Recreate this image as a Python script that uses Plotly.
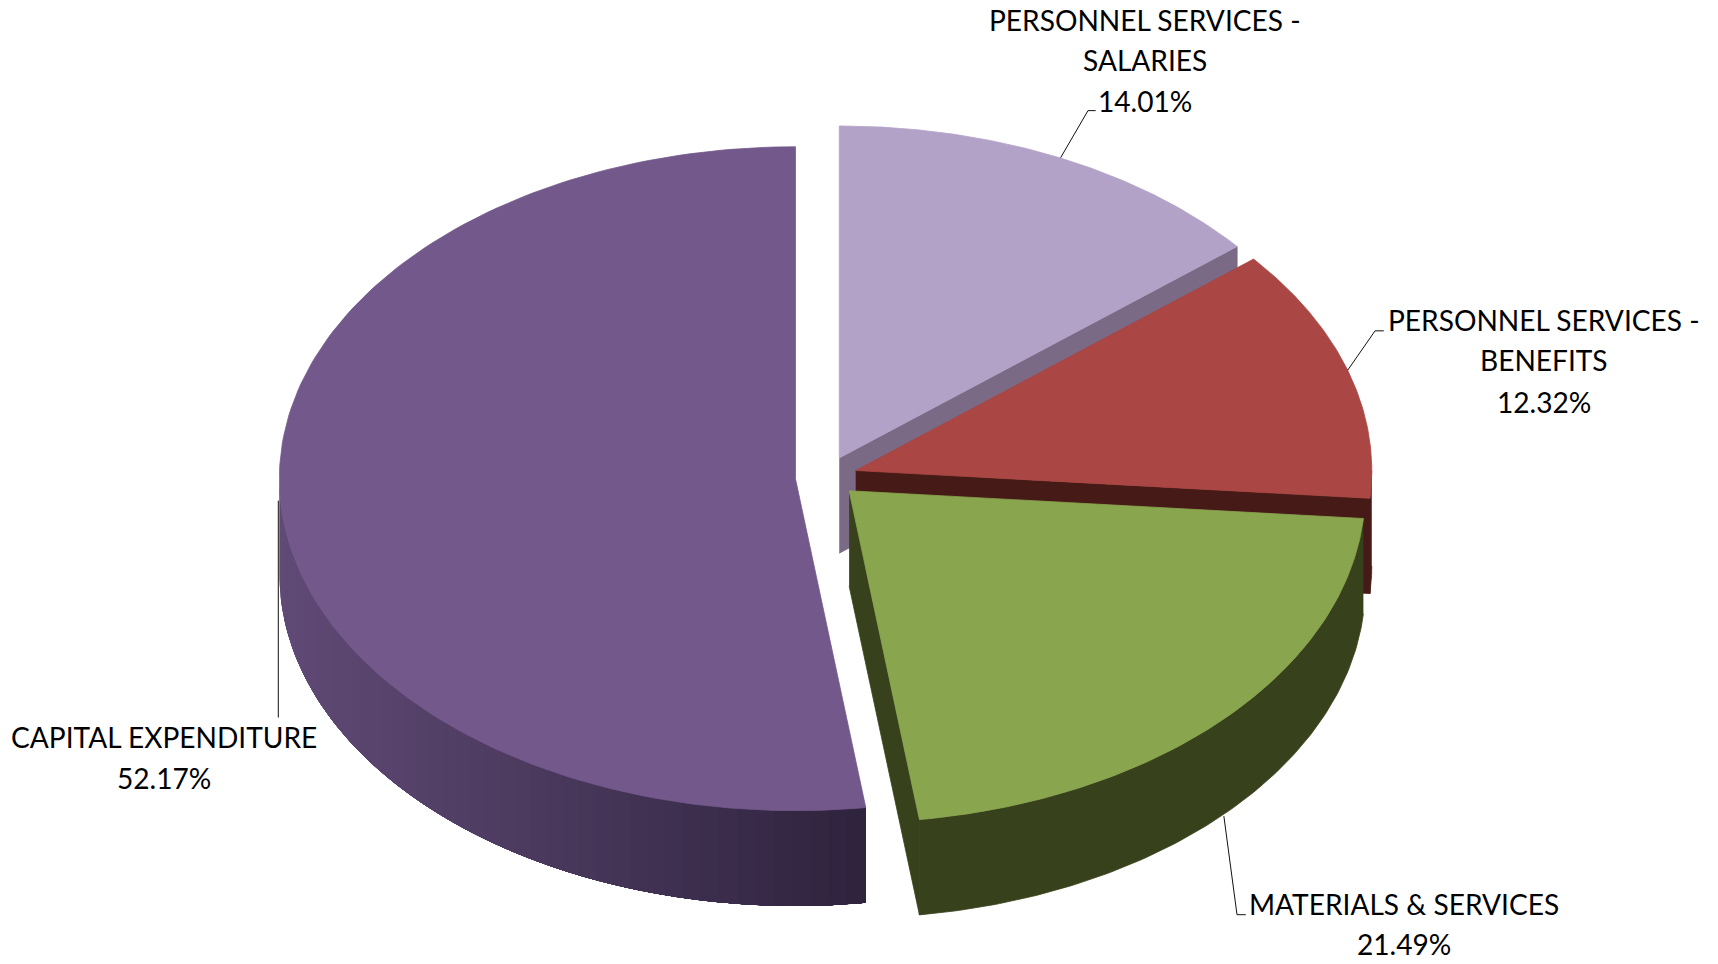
import numpy as np
import plotly.graph_objects as go

# ---- data ----
categories = ["PERSONNEL SERVICES - SALARIES", "PERSONNEL SERVICES - BENEFITS",
              "MATERIALS & SERVICES", "CAPITAL EXPENDITURE"]
shares = [14.01, 12.32, 21.49, 52.17]
label_lines = [["PERSONNEL SERVICES -", "SALARIES"],
               ["PERSONNEL SERVICES -", "BENEFITS"],
               ["MATERIALS & SERVICES"],
               ["CAPITAL EXPENDITURE"]]

# ---- styling / projection (drawing units = reference at 1568x880) ----
top_colors = ["#b3a2c7", "#aa4643", "#89a54e", "#73588c"]
cut_colors = ["#7a6a86", "#461a17", "#37421c", "#2e233c"]
wall_colors = ["#7a6a86", "#4a1c19", "#37421c", None]
wall_left, wall_right = (96, 74, 118), (45, 34, 60)
centers = [(766, 418), (781, 429.5), (775, 448), (726, 437)]
RX, RY, DEPTH = 471, 303, 87
label_pos = [(1045, [18, 55, 92]), (1409, [292, 329, 367]), (1281, [825, 862]), (150, [673, 710])]
leaders = [([968, 993, 1000], [144, 101, 101]),
           ([1230, 1255, 1263], [338, 302, 302]),
           ([1117, 1129, 1137], [745, 835, 835]),
           ([254, 254], [457, 655])]

fractions = np.array(shares) / sum(shares)
ends = np.cumsum(fractions) * 2 * np.pi
starts = np.concatenate([[0], ends[:-1]])

fig = go.Figure()


def poly(xs, ys, color, name, width=0.8):
    fig.add_trace(go.Scatter(x=list(xs), y=list(ys), mode="lines", fill="toself", fillcolor=color,
                             line=dict(color=color, width=width), name=name, hoverinfo="name",
                             showlegend=False))


def rim(c, a):
    return c[0] + RX * np.sin(a), c[1] - RY * np.cos(a)


for i in range(4):
    c, a0, a1 = centers[i], starts[i], ends[i]
    name = categories[i]
    arc = np.linspace(a0, a1, 160)
    ax, ay = rim(c, arc)
    if i < 3 and a1 > np.pi / 2:
        # outer wall
        vis = np.linspace(max(a0, np.pi / 2), min(a1, np.pi), 120)
        vx, vy = rim(c, vis)
        poly(np.r_[vx, vx[::-1]], np.r_[vy, vy[::-1] + DEPTH], wall_colors[i], name)
    if i in (0, 2):
        ex, ey = rim(c, a1)
        poly([c[0], ex, ex, c[0]], [c[1], ey, ey + DEPTH, c[1] + DEPTH], cut_colors[i], name)
    if i == 1:
        ex, ey = rim(c, a1)
        poly([c[0], ex, ex, c[0]], [c[1], ey, ey + DEPTH, c[1] + DEPTH], cut_colors[i], name)
    if i == 3:
        # shaded outer wall: nested bands painted from the left extreme to the front edge
        front_x = rim(c, a0)[0]
        left_x = c[0] - RX
        edges = np.linspace(1.5 * np.pi, a0, 49)
        for k in range(len(edges) - 1):
            seg = np.linspace(edges[k], a0, 90)
            sx, sy = rim(c, seg)
            t = (rim(c, edges[k])[0] - left_x) / (front_x - left_x)
            col = tuple(int(round(l + (r - l) * t)) for l, r in zip(wall_left, wall_right))
            poly(np.r_[sx, sx[::-1]], np.r_[sy, sy[::-1] + DEPTH], "rgb(%d,%d,%d)" % col, name, width=0)
    poly(np.r_[c[0], ax, c[0]], np.r_[c[1], ay, c[1]], top_colors[i], name)

for lx, ly in leaders:
    fig.add_trace(go.Scatter(x=lx, y=ly, mode="lines", line=dict(color="#111111", width=1),
                             hoverinfo="skip", showlegend=False))

for i in range(4):
    x, ys = label_pos[i]
    texts = label_lines[i] + ["%.2f%%" % shares[i]]
    for t, y in zip(texts, ys):
        fig.add_annotation(x=x, y=y, text=t, showarrow=False, xanchor="center", yanchor="middle",
                           font=dict(family="Lato, Carlito, sans-serif", size=28.1, color="#000000"))

fig.update_layout(width=1718, height=964, margin=dict(l=0, r=0, t=0, b=0),
                  paper_bgcolor="white", plot_bgcolor="white",
                  xaxis=dict(range=[0, 1568], visible=False, fixedrange=True),
                  yaxis=dict(range=[880, 0], visible=False, fixedrange=True))

fig.write_html("out.html", config={"displayModeBar": False},
               post_script="document.body.style.margin='0';document.body.style.overflow='hidden';")
